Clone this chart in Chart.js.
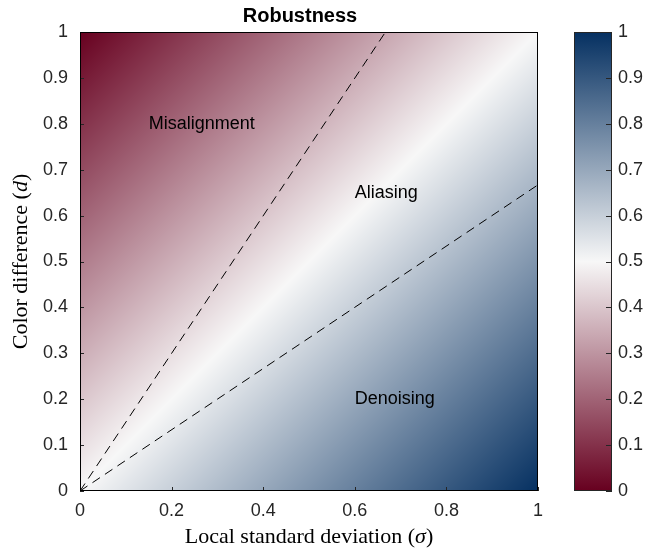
<!DOCTYPE html>
<html>
<head>
<meta charset="utf-8">
<script src="https://cdn.jsdelivr.net/npm/chart.js@4.4.1/dist/chart.umd.min.js"></script>
<style>
  html, body { margin: 0; padding: 0; background: #fff; }
  #wrap { position: relative; width: 656px; height: 550px; }
  #main { position: absolute; left: 0; top: 0; }
  #cbar { position: absolute; left: 560px; top: 0; }
</style>
</head>
<body>
<div id="wrap">
  <canvas id="main" width="656" height="550"></canvas>
  <canvas id="cbar" width="96" height="550"></canvas>
</div>
<script>
// axis ticks
const xTickValues = [0, 0.2, 0.4, 0.6, 0.8, 1];
const xTickLabels = ['0', '0.2', '0.4', '0.6', '0.8', '1'];
const yTickValues = [0, 0.1, 0.2, 0.3, 0.4, 0.5, 0.6, 0.7, 0.8, 0.9, 1];
const yTickLabels = ['0', '0.1', '0.2', '0.3', '0.4', '0.5', '0.6', '0.7', '0.8', '0.9', '1'];
const cbTickValues = [0, 0.1, 0.2, 0.3, 0.4, 0.5, 0.6, 0.7, 0.8, 0.9, 1];
const cbTickLabels = ['0', '0.1', '0.2', '0.3', '0.4', '0.5', '0.6', '0.7', '0.8', '0.9', '1'];

// robustness field read at the corners (rows: d, cols: sigma)
const fieldSigma = [0, 1];
const fieldD = [0, 1];
const fieldValues = [
  [0.5, 1.0],  // d = 0
  [0.0, 0.5]   // d = 1
];

// colour map (red - white - blue)
const cmapStops = [0, 0.5, 1];
const cmapColors = [[103, 0, 31], [247, 247, 247], [5, 48, 97]];

// dashed region boundaries
const steepSigma = [0, 0.667];
const steepD = [0, 1];
const shallowSigma = [0, 1];
const shallowD = [0, 0.667];

// region names
const regionNames = ['Misalignment', 'Aliasing', 'Denoising'];
const regionSigma = [0.15, 0.6, 0.6];
const regionD = [0.8, 0.65, 0.2];

const chartTitle = 'Robustness';
const xTitle = ['Local standard deviation (', 'σ', ')'];
const yTitle = ['Color difference (', 'd', ')'];

const tickColor = '#262626';
const sansFont = '"Liberation Sans", Arial, sans-serif';
const serifFont = '"Liberation Serif", "Times New Roman", serif';

// 値 -> 色
function cmap(v) {
  v = Math.max(0, Math.min(1, v));
  for (let i = 0; i < cmapStops.length - 1; i++) {
    const a = cmapStops[i], b = cmapStops[i + 1];
    if (v <= b) {
      const t = (v - a) / (b - a);
      const c0 = cmapColors[i], c1 = cmapColors[i + 1];
      return [0, 1, 2].map(k => Math.round(c0[k] + (c1[k] - c0[k]) * t));
    }
  }
  return cmapColors[cmapColors.length - 1];
}

// bilinear shading between the corner samples
function fieldAt(s, d) {
  const ts = (s - fieldSigma[0]) / (fieldSigma[1] - fieldSigma[0]);
  const td = (d - fieldD[0]) / (fieldD[1] - fieldD[0]);
  const f0 = fieldValues[0][0] * (1 - ts) + fieldValues[0][1] * ts;
  const f1 = fieldValues[1][0] * (1 - ts) + fieldValues[1][1] * ts;
  return f0 * (1 - td) + f1 * td;
}

function pts(xs, ys) {
  return xs.map((x, i) => ({ x: x, y: ys[i] }));
}

function setTicks(values) {
  return function(scale) {
    scale.ticks = values.map(v => ({ value: v }));
  };
}

// ヒートマップ・枠・目盛り・注釈を描くプラグイン
const fieldPlugin = {
  id: 'field',
  beforeDatasetsDraw(chart) {
    const { ctx, chartArea: a, scales: { x, y } } = chart;
    const w = Math.round(a.right - a.left), h = Math.round(a.bottom - a.top);
    const off = document.createElement('canvas');
    off.width = w; off.height = h;
    const octx = off.getContext('2d');
    const img = octx.createImageData(w, h);
    for (let j = 0; j < h; j++) {
      const d = y.getValueForPixel(a.top + j + 0.5);
      for (let i = 0; i < w; i++) {
        const s = x.getValueForPixel(a.left + i + 0.5);
        const c = cmap(fieldAt(s, d));
        const k = (j * w + i) * 4;
        img.data[k] = c[0]; img.data[k + 1] = c[1]; img.data[k + 2] = c[2]; img.data[k + 3] = 255;
      }
    }
    octx.putImageData(img, 0, 0);
    ctx.drawImage(off, a.left, a.top);
  },
  afterDatasetsDraw(chart) {
    const { ctx, chartArea: a, scales: { x, y } } = chart;
    ctx.save();
    // inward ticks (bottom / left)
    ctx.strokeStyle = tickColor;
    ctx.lineWidth = 1;
    ctx.beginPath();
    xTickValues.forEach(v => {
      const px = Math.round(x.getPixelForValue(v)) + 0.5;
      ctx.moveTo(px, a.bottom); ctx.lineTo(px, a.bottom - 4);
    });
    yTickValues.forEach(v => {
      const py = Math.round(y.getPixelForValue(v)) + 0.5;
      ctx.moveTo(a.left, py); ctx.lineTo(a.left + 4, py);
    });
    ctx.stroke();
    // box
    ctx.strokeStyle = '#000';
    ctx.strokeRect(a.left + 0.5, a.top + 0.5, a.right - a.left - 1, a.bottom - a.top - 1);

    // region names
    ctx.fillStyle = '#000';
    ctx.font = '18px ' + sansFont;
    ctx.textAlign = 'left';
    ctx.textBaseline = 'middle';
    regionNames.forEach((name, i) => {
      ctx.fillText(name, x.getPixelForValue(regionSigma[i]), y.getPixelForValue(regionD[i]));
    });

    // title
    ctx.font = 'bold 20px ' + sansFont;
    ctx.textAlign = 'center';
    ctx.fillText(chartTitle, 300, 16);

    // axis titles (italic symbol)
    drawMixed(ctx, xTitle, (a.left + a.right) / 2, 537);
    ctx.translate(21, (a.top + a.bottom) / 2);
    ctx.rotate(-Math.PI / 2);
    drawMixed(ctx, yTitle, 0, 0);
    ctx.restore();
  }
};

function drawMixed(ctx, parts, cx, cy) {
  const fonts = ['22px ' + serifFont, 'italic 22px ' + serifFont, '22px ' + serifFont];
  let total = 0;
  const widths = parts.map((p, i) => { ctx.font = fonts[i]; const m = ctx.measureText(p).width; total += m; return m; });
  let xPos = cx - total / 2;
  ctx.textAlign = 'left';
  ctx.textBaseline = 'middle';
  ctx.fillStyle = '#000';
  parts.forEach((p, i) => {
    ctx.font = fonts[i];
    ctx.fillText(p, xPos, cy);
    xPos += widths[i];
  });
}

new Chart(document.getElementById('main'), {
  type: 'scatter',
  data: {
    datasets: [
      { data: pts(steepSigma, steepD), showLine: true, borderColor: '#000', borderWidth: 1, borderDash: [9, 6], pointRadius: 0 },
      { data: pts(shallowSigma, shallowD), showLine: true, borderColor: '#000', borderWidth: 1, borderDash: [9, 6], pointRadius: 0 }
    ]
  },
  options: {
    responsive: false,
    animation: false,
    layout: { padding: { left: 0, top: 32, right: 118, bottom: 0 } },
    plugins: { legend: { display: false }, tooltip: { enabled: false }, title: { display: false } },
    scales: {
      x: {
        type: 'linear', min: 0, max: 1,
        afterBuildTicks: setTicks(xTickValues),
        afterFit(s) { s.height = 59; },
        grid: { display: false, drawTicks: false },
        border: { display: false },
        ticks: { padding: 9, color: tickColor, font: { family: sansFont, size: 18 },
          callback: (v, i) => xTickLabels[i] }
      },
      y: {
        type: 'linear', min: 0, max: 1,
        afterBuildTicks: setTicks(yTickValues),
        afterFit(s) { s.width = 80; },
        grid: { display: false, drawTicks: false },
        border: { display: false },
        ticks: { padding: 12, color: tickColor, font: { family: sansFont, size: 18 },
          callback: (v, i) => yTickLabels[i] }
      }
    }
  },
  plugins: [fieldPlugin]
});

// カラーバー
const cbarPlugin = {
  id: 'cbar',
  beforeDatasetsDraw(chart) {
    const { ctx, chartArea: a, scales: { y } } = chart;
    const g = ctx.createLinearGradient(0, y.getPixelForValue(0), 0, y.getPixelForValue(1));
    cmapStops.forEach((s, i) => {
      const c = cmapColors[i];
      g.addColorStop(s, `rgb(${c[0]},${c[1]},${c[2]})`);
    });
    ctx.save();
    ctx.fillStyle = g;
    ctx.fillRect(a.left, a.top, a.right - a.left, a.bottom - a.top);
    ctx.strokeStyle = tickColor;
    ctx.lineWidth = 1;
    ctx.beginPath();
    cbTickValues.forEach(v => {
      const py = Math.round(y.getPixelForValue(v)) + 0.5;
      ctx.moveTo(a.right, py); ctx.lineTo(a.right - 6, py);
    });
    ctx.stroke();
    ctx.strokeRect(a.left + 0.5, a.top + 0.5, a.right - a.left - 1, a.bottom - a.top - 1);
    ctx.restore();
  }
};

new Chart(document.getElementById('cbar'), {
  type: 'scatter',
  data: { datasets: [{ data: [] }] },
  options: {
    responsive: false,
    animation: false,
    layout: { padding: { left: 14, top: 32, right: 0, bottom: 59 } },
    plugins: { legend: { display: false }, tooltip: { enabled: false } },
    scales: {
      x: { display: false, min: 0, max: 1 },
      y: {
        type: 'linear', position: 'right', min: 0, max: 1,
        afterBuildTicks: setTicks(cbTickValues),
        afterFit(s) { s.width = 44; },
        grid: { display: false, drawTicks: false },
        border: { display: false },
        ticks: { padding: 6, color: tickColor, font: { family: sansFont, size: 18 },
          callback: (v, i) => cbTickLabels[i] }
      }
    }
  },
  plugins: [cbarPlugin]
});
</script>
</body>
</html>
